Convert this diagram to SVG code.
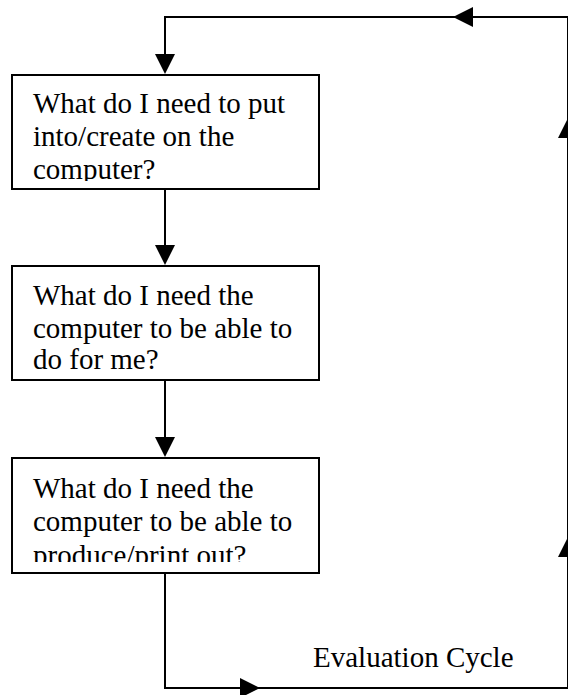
<svg xmlns="http://www.w3.org/2000/svg" width="568" height="695" viewBox="0 0 568 695">
<style>
.box{fill:#fff;stroke:#000;stroke-width:2}
.t{font-family:"Liberation Serif","Times New Roman",serif;font-size:29px;fill:#000}
.ln{fill:none;stroke:#000;stroke-width:2}
.hd{fill:#000;stroke:none}
</style>
<defs>
<clipPath id="c1"><rect x="13" y="76" width="305" height="105"/></clipPath>
<clipPath id="c2"><rect x="13" y="267" width="305" height="104"/></clipPath>
<clipPath id="c3"><rect x="13" y="459" width="305" height="103"/></clipPath>
</defs>
<rect width="568" height="695" fill="#fff"/>
<g id="connectors">
<path class="ln" d="M165,573 V688 H568 V17 H165 V60"/>
<line class="ln" x1="165" y1="189" x2="165" y2="250"/>
<line class="ln" x1="165" y1="380" x2="165" y2="442"/>
<polygon class="hd" points="155,54 175,54 165,74"/>
<polygon class="hd" points="155,245 175,245 165,265"/>
<polygon class="hd" points="155,437 175,437 165,457"/>
<polygon class="hd" points="240,678 240,698 260,688"/>
<polygon class="hd" points="558,557 578,557 568,537"/>
<polygon class="hd" points="558,138 578,138 568,118"/>
<polygon class="hd" points="473,7 473,27 453,17"/>
</g>
<g id="box1">
<rect class="box" x="12" y="75" width="307" height="114"/>
<g clip-path="url(#c1)">
<text class="t" x="33" y="113">What do I need to put</text>
<text class="t" x="33" y="146">into/create on the</text>
<text class="t" x="33" y="179">computer?</text>
</g>
</g>
<g id="box2">
<rect class="box" x="12" y="266" width="307" height="114"/>
<g clip-path="url(#c2)">
<text class="t" x="33" y="305">What do I need the</text>
<text class="t" x="33" y="338">computer to be able to</text>
<text class="t" x="33" y="369">do for me?</text>
</g>
</g>
<g id="box3">
<rect class="box" x="12" y="458" width="307" height="115"/>
<g clip-path="url(#c3)">
<text class="t" x="33" y="498">What do I need the</text>
<text class="t" x="33" y="531">computer to be able to</text>
<text class="t" x="33" y="565">produce/print out?</text>
</g>
</g>
<g id="label">
<text class="t" x="313" y="667">Evaluation Cycle</text>
</g>
</svg>
